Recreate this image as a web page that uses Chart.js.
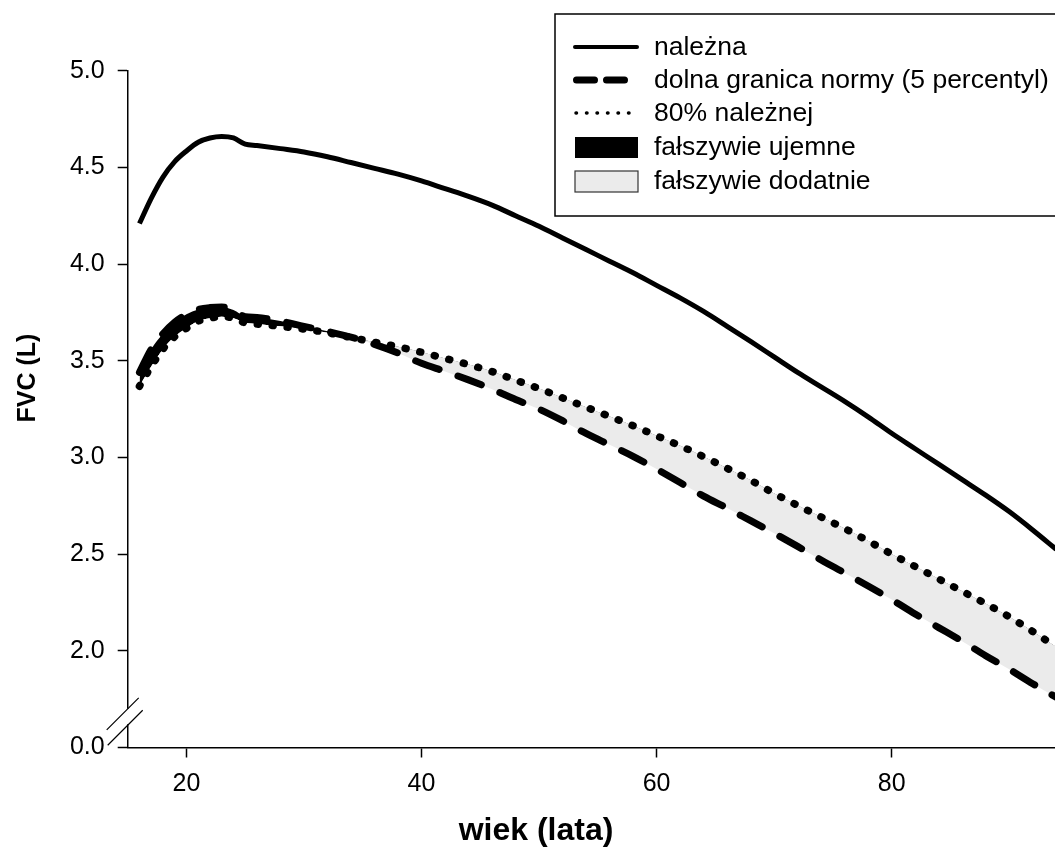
<!DOCTYPE html>
<html lang="pl">
<head>
  <meta charset="UTF-8" />
  <title>FVC a wiek</title>
  <script src="https://cdn.jsdelivr.net/npm/chart.js"></script>
  <style>
    html, body { margin: 0; padding: 0; background: #fff; }
  </style>
</head>
<body>
  <canvas id="wykres" width="1055" height="859"></canvas>

  <script>
    // wiek (lata)
    const wiek = [16, 17, 18, 19, 20, 21, 22, 23, 24, 25, 26, 28, 30, 32, 34, 36, 38, 40, 42, 44, 46, 48, 50,
      52, 54, 56, 58, 60, 62, 64, 66, 68, 70, 72, 74, 76, 78, 80, 82, 84, 86, 88, 90, 92, 94];

    // FVC (L) - należna
    const nalezna = [4.21, 4.34, 4.45, 4.53, 4.585, 4.63, 4.652, 4.66, 4.652, 4.62, 4.613, 4.597, 4.58, 4.555,
      4.525, 4.495, 4.465, 4.43, 4.39, 4.35, 4.305, 4.25, 4.195, 4.135, 4.075, 4.015, 3.955, 3.89, 3.825,
      3.755, 3.678, 3.60, 3.52, 3.44, 3.365, 3.29, 3.21, 3.125, 3.045, 2.965, 2.885, 2.805, 2.72, 2.625, 2.525];

    // dolna granica normy (5 percentyl)
    const dolnaGranica = [3.44, 3.56, 3.64, 3.70, 3.74, 3.765, 3.775, 3.778, 3.762, 3.728, 3.724, 3.705, 3.678,
      3.652, 3.622, 3.585, 3.54, 3.487, 3.445, 3.401, 3.353, 3.30, 3.25, 3.19, 3.124, 3.065, 3.006, 2.94,
      2.87, 2.80, 2.738, 2.673, 2.608, 2.54, 2.47, 2.403, 2.335, 2.265, 2.19, 2.12, 2.05, 1.975, 1.905, 1.83, 1.76];

    // 80% należnej
    const proc80 = [3.368, 3.47, 3.56, 3.625, 3.668, 3.705, 3.72, 3.728, 3.72, 3.696, 3.69, 3.678, 3.664, 3.645,
      3.62, 3.596, 3.572, 3.544, 3.512, 3.48, 3.444, 3.40, 3.356, 3.308, 3.26, 3.212, 3.164, 3.112, 3.06,
      3.004, 2.944, 2.882, 2.814, 2.752, 2.692, 2.632, 2.568, 2.50, 2.436, 2.372, 2.308, 2.244, 2.176, 2.10, 2.02];

    const tickiX = [20, 40, 60, 80];
    const tickiY = [1.5, 2.0, 2.5, 3.0, 3.5, 4.0, 4.5, 5.0];
    const etykietyY = ['0.0', '2.0', '2.5', '3.0', '3.5', '4.0', '4.5', '5.0'];

    const legenda = ['należna', 'dolna granica normy (5 percentyl)', '80% należnej', 'fałszywie ujemne', 'fałszywie dodatnie'];

    const FONT = "'Liberation Sans', Arial, sans-serif";
    const SZARY = '#ebebeb';
    const KRESKI = [25, 20];
    const KROPKI = [1, 14];

    const punkty = arr => wiek.map((x, i) => ({ x: x, y: arr[i] }));

    // legenda, tytuły osi, przerwa na osi Y
    const dodatki = {
      id: 'dodatki',
      afterDraw(chart) {
        const c = chart.ctx;
        const xa = chart.scales.x, ya = chart.scales.y;
        c.save();

        // przerwa osi
        const xl = xa.left;
        const y1 = ya.getPixelForValue(1.7), y2 = ya.getPixelForValue(1.62);
        c.fillStyle = '#fff';
        c.fillRect(xl - 3, y1, 6, y2 - y1);
        c.strokeStyle = '#000';
        c.lineWidth = 1.2;
        c.beginPath();
        c.moveTo(xl - 21, y1 + 21); c.lineTo(xl + 11, y1 - 11);
        c.moveTo(xl - 20, y2 + 21); c.lineTo(xl + 15, y2 - 14);
        c.stroke();

        // tytuły osi
        c.fillStyle = '#000';
        c.font = 'bold 32px ' + FONT;
        c.textAlign = 'center';
        c.textBaseline = 'middle';
        c.fillText('wiek (lata)', 536, 831);
        c.save();
        c.translate(28, 378);
        c.rotate(-Math.PI / 2);
        c.font = 'bold 25px ' + FONT;
        c.fillText('FVC (L)', 0, 0);
        c.restore();

        // legenda
        c.fillStyle = '#fff';
        c.fillRect(555, 14, 520, 202);
        c.strokeStyle = '#000';
        c.lineWidth = 1.5;
        c.strokeRect(555, 14, 520, 202);

        const rz = [47, 80, 113, 147, 181];
        c.lineCap = 'round';
        c.lineWidth = 4;
        c.setLineDash([]);
        c.beginPath(); c.moveTo(575, rz[0]); c.lineTo(637, rz[0]); c.stroke();
        c.lineWidth = 7;
        c.beginPath();
        c.moveTo(576.5, rz[1]); c.lineTo(594.5, rz[1]);
        c.moveTo(606.5, rz[1]); c.lineTo(624.5, rz[1]);
        c.stroke();
        c.lineWidth = 3.5;
        c.setLineDash([0.5, 10]);
        c.beginPath(); c.moveTo(576, rz[2]); c.lineTo(638, rz[2]); c.stroke();
        c.setLineDash([]);
        c.fillStyle = '#000';
        c.fillRect(575, rz[3] - 10, 63, 21);
        c.fillStyle = SZARY;
        c.fillRect(575, rz[4] - 10, 63, 21);
        c.lineWidth = 1.2;
        c.strokeStyle = '#333';
        c.strokeRect(575, rz[4] - 10, 63, 21);

        c.fillStyle = '#000';
        c.font = '26.5px ' + FONT;
        c.textAlign = 'left';
        legenda.forEach((t, i) => c.fillText(t, 654, rz[i] + 1));
        c.restore();
      }
    };

    new Chart(document.getElementById('wykres'), {
      type: 'line',
      data: {
        datasets: [
          {
            label: legenda[0],
            data: punkty(nalezna),
            borderColor: '#000',
            borderWidth: 5,
            pointRadius: 0,
            cubicInterpolationMode: 'monotone',
            fill: false,
            order: 1
          },
          {
            label: legenda[1],
            data: punkty(dolnaGranica),
            borderColor: '#000',
            borderWidth: 7,
            borderDash: KRESKI,
            borderCapStyle: 'round',
            pointRadius: 0,
            cubicInterpolationMode: 'monotone',
            fill: { target: 2, above: '#000', below: SZARY },
            order: 2
          },
          {
            // kropki rysowane na wierzchu wypełnienia
            label: legenda[2],
            data: punkty(proc80),
            borderColor: '#000',
            borderWidth: 7.5,
            borderDash: KROPKI,
            borderCapStyle: 'round',
            pointRadius: 0,
            cubicInterpolationMode: 'monotone',
            fill: false,
            order: 0
          }
        ]
      },
      options: {
        responsive: false,
        animation: false,
        layout: { padding: { left: 0, top: 70.7, right: 0, bottom: 0 } },
        plugins: {
          legend: { display: false },
          tooltip: { enabled: false }
        },
        scales: {
          x: {
            type: 'linear',
            min: 15,
            max: 93.9,
            afterBuildTicks: s => { s.ticks = tickiX.map(v => ({ value: v })); },
            afterFit: s => { s.height = 111.5; },
            ticks: { color: '#000', font: { family: FONT, size: 25 }, padding: 12 },
            grid: { drawOnChartArea: false, tickLength: 10, tickColor: '#000', tickWidth: 1.5 },
            border: { color: '#000', width: 1.5 }
          },
          y: {
            min: 1.5,
            max: 5.0,
            afterBuildTicks: s => { s.ticks = tickiY.map(v => ({ value: v })); },
            afterFit: s => { s.width = 127.7; },
            ticks: {
              color: '#000',
              font: { family: FONT, size: 25 },
              padding: 13,
              callback: v => etykietyY[tickiY.indexOf(v)]
            },
            grid: { drawOnChartArea: false, tickLength: 10, tickColor: '#000', tickWidth: 1.5 },
            border: { color: '#000', width: 1.5 }
          }
        }
      },
      plugins: [dodatki]
    });
  </script>
</body>
</html>
